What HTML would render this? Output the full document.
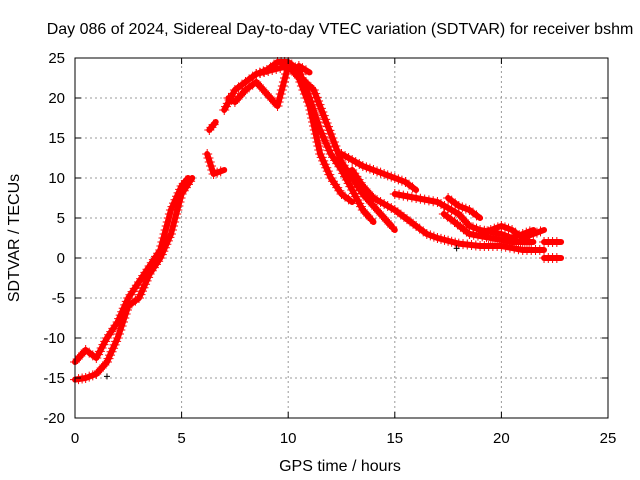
<!DOCTYPE html>
<html><head><meta charset="utf-8"><style>
html,body{margin:0;padding:0;background:#fff;}
svg{display:block;font-family:"Liberation Sans",sans-serif;}
</style></head><body>
<svg id="c" width="640" height="480">
<text x="340" y="34" text-anchor="middle" font-size="16">Day 086 of 2024, Sidereal Day-to-day VTEC variation (SDTVAR) for receiver bshm</text>
<text x="340" y="471" text-anchor="middle" font-size="16">GPS time / hours</text>
<text x="19" y="238" text-anchor="middle" font-size="16" transform="rotate(-90 19 238)">SDTVAR / TECUs</text>
<g id="grid"></g><g id="marks"></g><g id="axes"></g>
</svg>
<script>
const xTicks=[0,5,10,15,20,25];
const yTicks=[-20,-15,-10,-5,0,5,10,15,20,25];
const trackA=[[0,-15.2],[0.5,-15],[1,-14.5],[1.5,-13],[2,-10],[2.5,-6],[3,-5],[3.5,-2],[4,0],[4.5,3],[5,8],[5.5,10]];
const trackB=[[0,-13],[0.5,-11.5],[1,-12.5],[1.5,-10],[2,-8],[2.5,-5],[3,-3],[3.5,-1],[4,1],[4.5,6],[5,9],[5.3,10]];
const trackC=[[6.2,13],[6.5,10.5],[7,11]];
const trackD=[[6.3,16],[6.6,17]];
const trackE=[[7,18.5],[7.5,21],[8,22],[8.5,23],[9,23.5],[9.5,24.5],[10,24.5],[10.5,23.5],[11,20],[11.5,16],[12,13],[12.5,11],[13,8.5],[13.5,6],[14,4.5]];
const trackF=[[7.2,20],[7.5,19.5],[8,21],[8.5,22],[9,20.5],[9.5,19],[10,24],[10.5,22.5],[11,19],[11.5,13],[12,10],[12.5,8],[13,7]];
const trackG=[[8.5,23],[10,24],[10.8,22],[11.2,21],[12,15.5],[12.5,12],[13,10],[13.5,8],[14,6.5],[14.5,5],[15,3.5]];
const trackH=[[10.5,24],[11,23.2]];
const trackI=[[12.5,13],[13.5,11.5],[14.5,10.5],[15,10],[15.5,9.5],[16,8.5]];
const trackJ=[[13,11],[13.5,9],[14,7.5],[15,6],[16,4],[16.5,3],[17,2.5],[18,1.8],[19,1.5],[20,1.5],[21,1],[22,1]];
const trackK=[[15,8],[16,7.5],[17,7],[18,5.5],[18.5,4],[19,3.5],[20,3],[20.5,2.5],[21,3],[21.5,3.5]];
const trackL=[[17.5,7.5],[18,6.5],[18.5,6],[19,5]];
const trackM=[[19,3],[20,4],[20.5,3.5],[21,2.5],[21.5,3],[22,3.5]];
const trackN=[[22,2],[22.8,2]];
const trackO=[[22,0],[22.8,0]];
const trackP=[[17.3,5.5],[17.8,4.5],[18.5,3],[19.5,2.5],[20.5,2],[21.5,2]];
const outliers=[[1.5,-14.8],[17.9,1.2]];
const tracks=[trackA,trackB,trackC,trackD,trackE,trackF,trackG,trackH,trackI,trackJ,trackK,trackL,trackM,trackN,trackO,trackP];

const X0=75,X1=608,Y0=418,Y1=58;
const sx=v=>X0+(v-0)/25*(X1-X0);
const sy=v=>Y0-(v+20)/45*(Y0-Y1);
const NS="http://www.w3.org/2000/svg";
function mk(tag,attrs,parent){const e=document.createElementNS(NS,tag);for(const k in attrs)e.setAttribute(k,attrs[k]);parent.appendChild(e);return e;}
const grid=document.getElementById('grid'),marks=document.getElementById('marks'),axes=document.getElementById('axes');
xTicks.forEach(t=>{
  if(t>0&&t<25){const l=mk('line',{x1:sx(t),x2:sx(t),y1:Y0,y2:Y1,stroke:'#999','stroke-dasharray':'2,3'},grid);
  
  }
  mk('line',{x1:sx(t),x2:sx(t),y1:Y0,y2:Y0-6,stroke:'#000'},axes);
  mk('line',{x1:sx(t),x2:sx(t),y1:Y1,y2:Y1+6,stroke:'#000'},axes);
  const tx=mk('text',{x:sx(t),y:Y0+25,'text-anchor':'middle','font-size':15},axes);tx.textContent=t;
  
  
});
yTicks.forEach(t=>{
  if(t>-20&&t<25){const l=mk('line',{x1:X0,x2:X1,y1:sy(t),y2:sy(t),stroke:'#999','stroke-dasharray':'2,3'},grid);
  
  }
  mk('line',{x1:X0,x2:X0+6,y1:sy(t),y2:sy(t),stroke:'#000'},axes);
  mk('line',{x1:X1,x2:X1-6,y1:sy(t),y2:sy(t),stroke:'#000'},axes);
  const tx=mk('text',{x:X0-10,y:sy(t)+5,'text-anchor':'end','font-size':15},axes);tx.textContent=t;
  
  
});
const fr=mk('rect',{x:X0,y:Y1,width:X1-X0,height:Y0-Y1,fill:'none',stroke:'#000'},axes);


function plus(x,y,s,parent){mk('path',{d:`M${x-s} ${y}H${x+s}M${x} ${y-s}V${y+s}`,stroke:'#f00','stroke-width':1},parent);}
tracks.forEach(tr=>{
  const g=mk('g',{},marks);
  
  
  mk('polyline',{points:tr.map(p=>sx(p[0])+','+sy(p[1])).join(' '),fill:'none',stroke:'#f00','stroke-width':6,'stroke-linejoin':'round','stroke-linecap':'round'},g);
  for(let i=0;i<tr.length-1;i++){
    const a=tr[i],b=tr[i+1];
    const n=Math.max(2,Math.round(Math.hypot(sx(b[0])-sx(a[0]),sy(b[1])-sy(a[1]))/4));
    for(let k=0;k<n;k++){const f=k/n;plus(sx(a[0]+(b[0]-a[0])*f),sy(a[1]+(b[1]-a[1])*f),5,g);}
  }
});
outliers.forEach(p=>{
  const g=mk('g',{},marks);
  
  
  const x=sx(p[0]),y=sy(p[1]);
  mk('path',{d:`M${x-3} ${y}H${x+3}M${x} ${y-3}V${y+3}`,stroke:'#000','stroke-width':1},g);
});
</script>
</body></html>
